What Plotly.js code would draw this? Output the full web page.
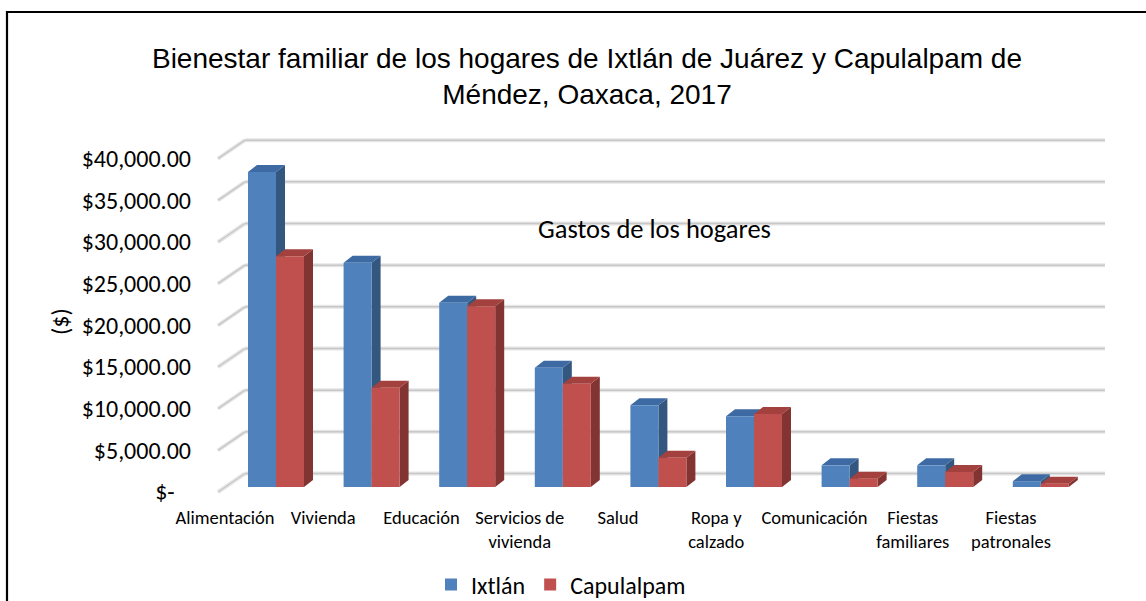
<!DOCTYPE html>
<html><head><meta charset="utf-8">
<script src="https://cdn.plot.ly/plotly-3.0.1.min.js"></script>
<style>html,body{margin:0;padding:0;background:#fff}#chart{width:1146px;height:601px}</style>
</head><body><div id="chart"></div>
<script>
// ---- data ----
const categories = ["Alimentación","Vivienda","Educación","Servicios de vivienda","Salud","Ropa y calzado","Comunicación","Fiestas familiares","Fiestas patronales"];
const categoryLabels = ["Alimentación","Vivienda","Educación","Servicios de<br>vivienda","Salud","Ropa y<br>calzado","Comunicación","Fiestas<br>familiares","Fiestas<br>patronales"];
const ixtlan = [37800, 26900, 22100, 14300, 9800, 8500, 2600, 2600, 700];
const capulalpam = [27700, 11900, 21700, 12400, 3500, 8750, 1000, 1800, 400];
const seriesNames = ["Ixtlán", "Capulalpam"];
const tickValues = [0, 5000, 10000, 15000, 20000, 25000, 30000, 35000, 40000];
const tickLabels = ["$-\u00a0\u00a0\u00a0", "$5,000.00", "$10,000.00", "$15,000.00", "$20,000.00", "$25,000.00", "$30,000.00", "$35,000.00", "$40,000.00"];

// ---- geometry (layout only) ----
const FW = 1146, FH = 601;
const L = 212, R = 1112, T = 137, PH = 360;
const B = FH - T - PH;
const PW = R - L;
const PXU = 95.6;                 // px per category
const XA = -(276 - L) / PXU;      // x range start
const XB = XA + PW / PXU;
const VPP = 120;                  // value per px
const YA = -1200, YB = 42000;
const BW = 28 / PXU;
const DX = 9 / PXU, DY = 7 * VPP;
const LPX = 98.25;                // label spacing (front edge, perspective)

const idx = categories.map((c, i) => i);
const labelPos = idx.map(i => XA + (225 + LPX * i - L) / PXU);
const FONT = "Calibri, Carlito, Lato, sans-serif";

const colors = {
  front: ["#4F81BD", "#C0504D"],
  top:   ["#3D6AA3", "#A3413E"],
  side:  ["#34577F", "#823432"]
};

const shapes = [];
// back-wall gridlines and left-wall diagonals
const xFrontL = XA + 6 / PXU, xBackL = XA + 33 / PXU, xRight = XA + 893 / PXU;
const backDY = 13.5 * VPP, frontDY = -5 * VPP;
[["#e6e6e6", 4], ["#c8c8c8", 1.5]].forEach(([c, w]) => {
  tickValues.forEach(t => {
    shapes.push({type: "line", xref: "x", yref: "y", layer: "below",
      x0: xBackL, x1: xRight, y0: t + backDY, y1: t + backDY, line: {color: c, width: w}});
    shapes.push({type: "line", xref: "x", yref: "y", layer: "below",
      x0: xFrontL, x1: xBackL, y0: t + frontDY, y1: t + backDY, line: {color: c, width: w}});
  });
});
// 3D depth faces of the bars
[ixtlan, capulalpam].forEach((vals, s) => {
  const off = s === 0 ? -BW : 0;
  vals.forEach((v, i) => {
    const x0 = i + off, x1 = x0 + BW;
    shapes.push({type: "path", xref: "x", yref: "y", layer: "below", line: {width: 0},
      fillcolor: colors.side[s],
      path: `M${x1},0 L${x1 + DX},${DY} L${x1 + DX},${v + DY} L${x1},${v} Z`});
    shapes.push({type: "path", xref: "x", yref: "y", layer: "below", line: {width: 0},
      fillcolor: colors.top[s],
      path: `M${x0},${v} L${x1},${v} L${x1 + DX},${v + DY} L${x0 + DX},${v + DY} Z`});
  });
});
// chart frame
const px2paperX = p => (p - L) / PW;
const px2paperY = p => (T + PH - p) / PH;
shapes.push({type: "path", xref: "paper", yref: "paper", layer: "above",
  path: `M${px2paperX(7)},${px2paperY(610)} L${px2paperX(7)},${px2paperY(12)} L${px2paperX(1150)},${px2paperY(12)}`,
  line: {color: "#000", width: 2.2}});

const traces = [ixtlan, capulalpam].map((vals, s) => ({
  type: "bar", name: seriesNames[s], x: idx, y: vals,
  width: BW, offset: s === 0 ? -BW : 0,
  marker: {color: colors.front[s], line: {width: 0}},
  hoverinfo: "x+y"
}));

const layout = {
  width: FW, height: FH,
  margin: {l: L, r: FW - R, t: T, b: B, autoexpand: false},
  paper_bgcolor: "#fff", plot_bgcolor: "rgba(0,0,0,0)",
  showlegend: true,
  title: {
    text: "Bienestar familiar de los hogares de Ixtlán de Juárez y Capulalpam de<br>Méndez, Oaxaca, 2017",
    font: {family: "Liberation Sans, Arial, sans-serif", size: 28, color: "#000"},
    x: 587 / FW, xanchor: "center", xref: "container",
    y: 1 - 68 / FH, yanchor: "middle", yref: "container"
  },
  xaxis: {range: [XA, XB], tickmode: "array", tickvals: labelPos, ticktext: categoryLabels,
    showgrid: false, zeroline: false, showline: false, ticks: "", ticklabelstandoff: 7, fixedrange: true,
    tickfont: {family: FONT, size: 18.5, color: "#000"}},
  yaxis: {range: [YA, YB], tickmode: "array", tickvals: tickValues, ticktext: tickLabels,
    showgrid: false, zeroline: false, showline: false, ticks: "", ticklabelstandoff: 20, ticklabelshift: 5,
    tickfont: {family: FONT, size: 24, color: "#000"}},
  legend: {orientation: "h", xref: "container", yref: "container", x: 561 / FW, xanchor: "center",
    y: (FH - 585) / FH, yanchor: "middle", font: {family: FONT, size: 24, color: "#000"}, itemwidth: 30,
    bgcolor: "rgba(0,0,0,0)"},
  annotations: [
    {text: "Gastos de los hogares", xref: "paper", yref: "paper",
      x: px2paperX(654), y: px2paperY(229), xanchor: "center", yanchor: "middle", showarrow: false,
      font: {family: FONT, size: 26.5, color: "#000"}},
    {text: "($)", xref: "paper", yref: "paper", textangle: -90,
      x: px2paperX(60), y: px2paperY(322), xanchor: "center", yanchor: "middle", showarrow: false,
      font: {family: FONT, size: 24, color: "#000"}}
  ],
  shapes: shapes
};

Plotly.newPlot("chart", traces, layout, {staticPlot: true, displayModeBar: false});
</script>
</body></html>
